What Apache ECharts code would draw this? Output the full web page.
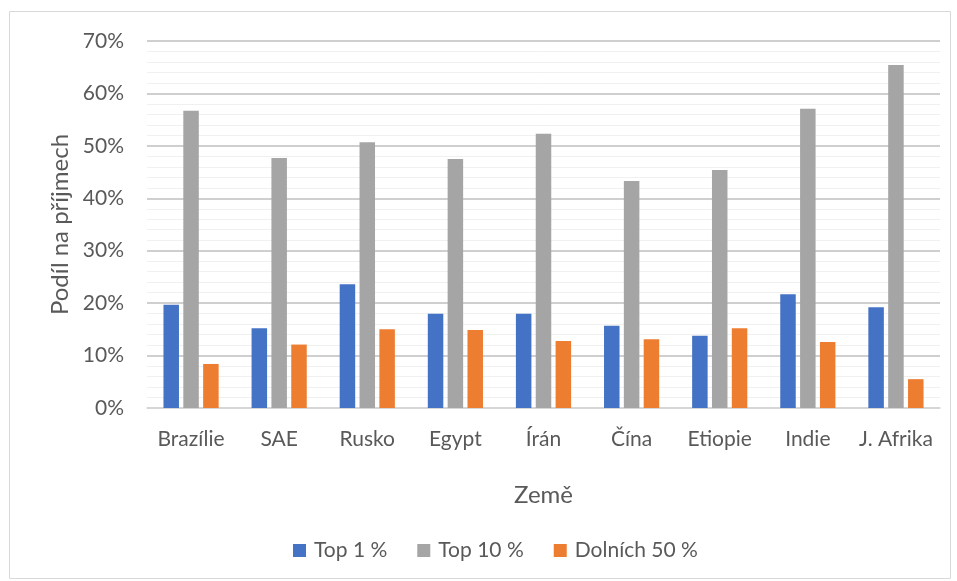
<!DOCTYPE html>
<html><head><meta charset="utf-8">
<script src="https://cdn.jsdelivr.net/npm/echarts@6/dist/echarts.min.js"></script>
<style>html,body{margin:0;padding:0;background:#fff}#c{width:957px;height:581px}</style>
</head><body><div id="c"></div>
<script>
const categories = ['Brazílie','SAE','Rusko','Egypt','Írán','Čína','Etiopie','Indie','J. Afrika'];
const top1 = [0.197,0.152,0.236,0.180,0.180,0.157,0.138,0.217,0.192];
const top10 = [0.567,0.477,0.507,0.475,0.523,0.433,0.454,0.571,0.654];
const bottom50 = [0.084,0.121,0.150,0.149,0.128,0.131,0.152,0.126,0.055];
const seriesNames = ['Top 1 %','Top 10 %','Dolních 50 %'];
const colors = ['#4472C4','#A5A5A5','#ED7D31'];
const font = 'Lato, "Open Sans", sans-serif';
const chart = echarts.init(document.getElementById('c'));
const mk = (name, data, color) => ({name, type:'bar', data, barWidth:15.5, barGap:'28%', itemStyle:{color}});
chart.setOption({
  animation:false,
  textStyle:{fontFamily:font},
  graphic:[{type:'rect', shape:{x:9.5,y:11.5,width:941,height:567}, style:{fill:'none', stroke:'#d9d9d9', lineWidth:1}, silent:true}],
  grid:{left:147, right:17, top:41, bottom:173},
  legend:{data:seriesNames, top:535, left:288, itemWidth:13, itemHeight:13, itemGap:30,
    icon:'rect', textStyle:{color:'#595959', fontSize:21, fontFamily:font, padding:[0,0,0,3]}},
  xAxis:{type:'category', data:categories, name:'Země', nameLocation:'middle', nameGap:75,
    nameTextStyle:{color:'#595959', fontSize:24, fontFamily:font},
    axisLine:{lineStyle:{color:'#d9d9d9', width:1.5}}, axisTick:{show:false},
    axisLabel:{color:'#595959', fontSize:21, margin:21, interval:0, fontFamily:font}},
  yAxis:{type:'value', min:0, max:0.7, interval:0.1, name:'Podíl na příjmech', nameLocation:'middle', nameGap:74,
    nameTextStyle:{color:'#595959', fontSize:24, fontFamily:font},
    axisLabel:{color:'#595959', fontSize:21, margin:23, fontFamily:font, formatter:v=>Math.round(v*100)+'%'},
    splitLine:{lineStyle:{color:'#bfbfbf', width:1.5}},
    minorTick:{show:false, splitNumber:5},
    minorSplitLine:{show:true, lineStyle:{color:'#f0f0f0', width:1}}},
  series:[mk(seriesNames[0], top1, colors[0]), mk(seriesNames[1], top10, colors[1]), mk(seriesNames[2], bottom50, colors[2])]
});
</script></body></html>
